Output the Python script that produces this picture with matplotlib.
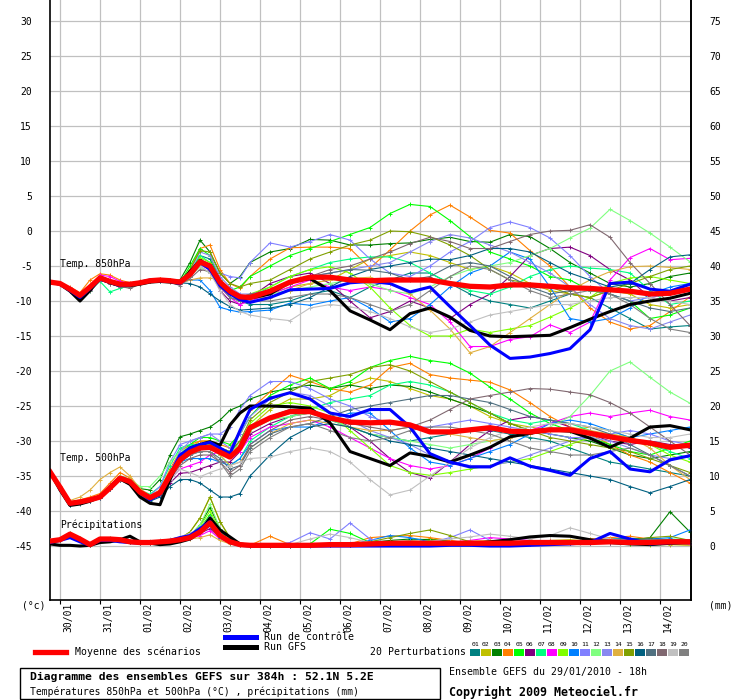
import matplotlib
matplotlib.use('Agg')
import matplotlib.pyplot as plt
from matplotlib.lines import Line2D
from matplotlib.patches import Rectangle

plt.rcParams['font.family'] = ['DejaVu Sans Mono', 'DejaVu Sans']
plt.rcParams['axes.unicode_minus'] = False

# forecast hours from 29/01/2010 18h (6h steps to 120h, then 12h)
hours = [0, 6, 12, 18, 24, 30, 36, 42, 48, 54, 60, 66, 72, 78, 84, 90, 96, 102, 108, 114, 120,
         132, 144, 156, 168, 180, 192, 204, 216, 228, 240, 252, 264, 276, 288, 300, 312, 324,
         336, 348, 360, 372, 384]

day_hours = [6, 30, 54, 78, 102, 126, 150, 174, 198, 222, 246, 270, 294, 318, 342, 366]
day_labels = ['30/01', '31/01', '01/02', '02/02', '03/02', '04/02', '05/02', '06/02',
              '07/02', '08/02', '09/02', '10/02', '11/02', '12/02', '13/02', '14/02']

pert_colors = ['#008080', '#c0c000', '#008000', '#ff8000', '#00ff00', '#800080', '#00ff80',
               '#ff00ff', '#80ff00', '#0080ff', '#8080ff', '#80ff80', '#8888f0', '#e0b040',
               '#80a000', '#006080', '#507080', '#806870', '#c0c0c0', '#808080']

# temperature 850 hPa (deg C)
t850_mean = [-7.3, -7.5, -8.3, -9.2, -8.0, -6.7, -7.2, -7.6, -7.6, -7.4, -7.1, -7.0, -7.1, -7.3, -6.2, -4.4, -5.0, -7.3, -8.6, -9.4, -9.5,
             -8.6, -7.3, -6.6, -6.6, -7.0, -7.1, -7.0, -7.0, -7.0, -7.5, -7.9, -8.0, -7.7, -7.7, -7.9, -8.1, -8.2, -8.4, -8.6, -9.0, -8.9, -8.3]
t850_ctrl = [-7.3, -7.6, -8.5, -9.5, -8.2, -6.9, -7.3, -7.8, -7.7, -7.3, -7.0, -7.1, -7.2, -7.5, -6.0, -4.5, -5.5, -7.8, -9.0, -9.8, -10.2,
             -9.5, -8.4, -8.3, -8.2, -7.4, -7.2, -7.5, -8.7, -8.0, -10.8, -13.5, -16.3, -18.2, -18.0, -17.5, -16.8, -14.1, -7.5, -7.3, -8.3, -8.6, -7.6]
t850_gfs = [-7.3, -7.6, -8.6, -10.0, -8.5, -6.8, -7.4, -7.8, -7.8, -7.6, -7.3, -7.2, -7.3, -7.5, -5.8, -4.2, -5.0, -7.4, -8.7, -9.8, -9.6,
            -9.0, -7.3, -6.8, -8.5, -11.4, -12.7, -14.1, -11.8, -11.0, -12.3, -14.2, -15.0, -15.1, -15.0, -14.9, -13.8, -12.6, -11.5, -10.5, -10.0, -9.6, -8.9]
t850_pert = [
    [-7.2, -7.6, -8.4, -9.5, -8.2, -6.9, -7.3, -7.7, -7.6, -7.5, -7.2, -7.1, -7.2, -7.5, -6.0, -3.5, -4.0, -7.0, -9.0, -10.0, -10.5,
     -10.5, -10.0, -9.0, -8.5, -9.5, -8.0, -7.0, -6.0, -6.0, -7.5, -9.0, -10.0, -10.5, -11.0, -10.0, -9.0, -9.5, -11.0, -12.5, -14.0, -13.7, -13.5],
    [-7.3, -7.4, -8.2, -9.0, -7.8, -6.5, -7.0, -7.4, -7.5, -7.3, -7.0, -6.9, -7.0, -7.2, -6.5, -4.8, -5.5, -7.5, -8.8, -9.5, -9.5,
     -9.0, -8.0, -7.5, -7.0, -5.5, -4.0, -3.5, -3.0, -3.5, -4.5, -5.5, -5.0, -6.0, -7.5, -8.5, -9.0, -9.5, -8.5, -9.0, -10.5, -11.0, -10.5],
    [-7.3, -7.5, -8.3, -9.3, -8.0, -6.4, -7.0, -7.5, -7.5, -7.3, -7.0, -7.0, -7.0, -7.0, -4.5, -1.3, -3.0, -6.0, -7.5, -6.5, -4.5,
     -3.0, -2.5, -1.2, -1.3, -2.0, -2.0, -1.8, -1.7, -1.2, -0.9, -1.5, -1.6, -0.5, -0.8, -2.5, -4.5, -6.0, -7.5, -8.0, -7.5, -6.5, -6.0],
    [-7.3, -7.5, -8.0, -8.8, -7.0, -6.1, -6.3, -7.0, -7.4, -7.2, -7.0, -6.9, -7.1, -7.3, -5.5, -2.5, -2.0, -5.5, -7.5, -8.2, -6.5,
     -4.0, -2.4, -2.3, -2.3, -2.5, -5.3, -2.7, 0.0, 2.3, 3.7, 2.0, 0.1, -0.3, -2.8, -5.0, -8.0, -11.0, -13.0, -14.0, -13.5, -11.5, -9.4],
    [-7.3, -7.6, -8.4, -9.4, -8.3, -6.8, -7.2, -7.6, -7.7, -7.5, -7.2, -7.0, -7.2, -7.4, -5.0, -2.5, -3.5, -7.0, -8.5, -8.0, -6.5,
     -5.0, -3.5, -2.5, -1.5, -0.5, 0.5, 2.5, 3.8, 3.5, 1.5, -0.8, -3.0, -4.0, -5.0, -6.5, -7.0, -8.5, -9.0, -10.0, -12.5, -12.0, -11.0],
    [-7.4, -7.6, -8.5, -9.6, -8.4, -7.0, -7.5, -8.0, -7.8, -7.4, -7.1, -7.0, -7.2, -7.6, -6.5, -4.0, -5.5, -8.5, -10.0, -10.5, -9.5,
     -7.5, -6.5, -6.0, -7.5, -10.0, -12.4, -11.5, -10.0, -11.0, -12.5, -10.5, -9.0, -6.5, -3.5, -2.5, -2.3, -3.5, -5.5, -7.0, -9.5, -10.0, -9.5],
    [-7.2, -7.5, -8.4, -9.5, -8.5, -7.2, -8.7, -8.2, -7.7, -7.5, -7.1, -7.0, -7.1, -7.3, -6.0, -3.5, -4.5, -7.5, -9.5, -10.0, -9.5,
     -8.0, -6.5, -5.5, -4.5, -4.0, -3.7, -3.7, -4.5, -6.0, -7.5, -8.5, -9.0, -8.0, -6.5, -5.5, -5.0, -5.3, -5.5, -6.0, -8.5, -10.5, -10.0],
    [-7.3, -7.5, -8.3, -9.2, -7.9, -6.3, -6.5, -7.2, -7.5, -7.3, -7.1, -7.0, -7.1, -7.3, -6.3, -5.0, -6.0, -8.0, -9.5, -10.5, -10.0,
     -9.0, -8.0, -7.0, -8.0, -8.5, -8.0, -8.4, -9.5, -10.5, -13.0, -16.5, -16.5, -15.5, -15.1, -13.4, -14.5, -13.0, -7.0, -3.8, -2.5, -4.1, -3.9],
    [-7.3, -7.5, -8.3, -9.3, -8.1, -6.8, -7.4, -7.9, -7.7, -7.4, -7.1, -7.0, -7.1, -7.3, -6.0, -3.8, -4.5, -7.5, -9.0, -9.5, -9.0,
     -8.0, -6.5, -5.5, -5.1, -6.0, -8.0, -11.0, -13.5, -15.0, -15.0, -14.0, -14.5, -14.0, -13.5, -12.3, -11.0, -9.5, -7.5, -6.7, -6.5, -7.0, -7.5],
    [-7.3, -7.6, -8.4, -9.4, -8.2, -6.9, -7.4, -7.8, -7.7, -7.5, -7.2, -7.1, -7.2, -7.4, -7.0, -7.0, -8.5, -10.9, -11.3, -11.6, -11.5,
     -11.3, -10.3, -10.6, -10.0, -9.5, -11.0, -13.0, -12.5, -10.5, -8.0, -6.0, -5.0, -3.0, -4.0, -8.0, -12.5, -13.0, -12.5, -11.0, -9.0, -8.0, -7.5],
    [-7.3, -7.5, -8.2, -9.1, -7.9, -6.6, -7.1, -7.5, -7.5, -7.4, -7.1, -7.0, -7.1, -7.2, -6.3, -5.0, -5.2, -6.0, -6.5, -6.7, -4.5,
     -1.7, -2.3, -1.5, -0.5, -1.3, -4.0, -6.0, -6.5, -5.0, -3.0, -1.5, 0.5, 1.3, 0.5, -1.0, -3.5, -6.5, -9.0, -10.0, -9.5, -9.0, -8.5],
    [-7.3, -7.5, -8.3, -9.2, -8.0, -6.7, -7.2, -7.6, -7.6, -7.4, -7.1, -7.0, -7.1, -7.3, -6.4, -5.2, -6.0, -8.0, -9.0, -9.5, -9.5,
     -9.0, -8.5, -8.0, -7.5, -7.0, -7.5, -8.5, -9.0, -8.0, -6.5, -5.5, -5.0, -4.5, -3.5, -2.5, -1.0, 0.4, 3.1, 1.5, -0.3, -2.3, -4.4],
    [-7.2, -7.4, -8.2, -9.1, -7.9, -6.6, -7.1, -7.5, -7.6, -7.4, -7.1, -7.0, -7.1, -7.3, -5.8, -3.0, -3.5, -6.5, -8.0, -9.0, -9.0,
     -8.5, -7.5, -6.5, -6.0, -5.5, -5.0, -4.5, -3.0, -1.5, -0.5, -1.0, -2.0, -3.0, -4.5, -6.0, -8.0, -10.5, -12.5, -13.5, -14.0, -13.0, -12.0],
    [-7.3, -7.5, -8.3, -9.2, -8.0, -6.7, -7.2, -7.6, -7.6, -7.4, -7.2, -7.1, -7.3, -7.5, -7.0, -6.7, -6.7, -7.0, -8.5, -9.5, -9.5,
     -9.5, -8.5, -7.5, -7.0, -6.8, -6.6, -7.5, -9.0, -11.3, -14.0, -17.4, -16.5, -14.5, -12.5, -10.5, -8.5, -7.0, -5.8, -5.1, -5.0, -5.2, -5.5],
    [-7.3, -7.5, -8.3, -9.2, -8.0, -6.6, -7.1, -7.6, -7.6, -7.4, -7.1, -7.0, -7.1, -7.3, -5.5, -2.8, -3.0, -6.0, -7.5, -8.0, -7.5,
     -7.0, -5.5, -4.0, -3.0, -2.0, -1.3, 0.0, -0.1, -0.8, -2.0, -3.5, -5.5, -7.0, -7.5, -8.0, -9.0, -9.5, -8.5, -7.5, -6.5, -5.5, -5.0],
    [-7.3, -7.6, -8.4, -9.4, -8.2, -6.9, -7.3, -7.7, -7.7, -7.5, -7.2, -7.1, -7.2, -7.4, -7.5, -8.0, -9.0, -10.0, -10.8, -11.3, -11.2,
     -11.0, -10.5, -9.5, -8.0, -6.5, -5.5, -5.0, -4.5, -4.0, -4.1, -3.5, -2.5, -2.5, -3.0, -4.5, -6.0, -7.0, -8.0, -7.5, -5.5, -3.7, -3.4],
    [-7.3, -7.5, -8.3, -9.2, -8.0, -6.7, -7.2, -7.6, -7.6, -7.4, -7.1, -7.0, -7.1, -7.3, -6.5, -4.5, -5.0, -7.5, -9.5, -10.0, -9.5,
     -9.0, -7.5, -6.5, -6.0, -5.5, -5.6, -6.0, -7.0, -6.5, -5.0, -4.5, -5.0, -6.5, -8.0, -9.0, -8.5, -8.0, -9.0, -10.0, -11.0, -11.5, -11.0],
    [-7.3, -7.5, -8.3, -9.4, -8.3, -7.0, -7.4, -7.9, -8.2, -7.6, -7.2, -7.0, -7.2, -7.6, -6.8, -5.5, -5.8, -7.5, -9.0, -9.5, -9.0,
     -8.5, -7.5, -6.5, -5.5, -5.0, -4.0, -3.0, -1.8, -0.9, -1.5, -2.5, -2.5, -1.5, -0.5, 0.0, 0.1, 0.9, -0.9, -4.5, -7.5, -10.5, -13.5],
    [-7.3, -7.5, -8.3, -9.2, -8.0, -6.7, -7.2, -7.6, -7.6, -7.4, -7.1, -7.0, -7.1, -7.3, -6.5, -5.0, -6.0, -8.5, -10.5, -11.5, -12.0,
     -12.5, -12.8, -11.0, -10.5, -10.8, -11.5, -12.5, -13.7, -14.5, -14.0, -13.0, -12.0, -11.5, -11.0, -10.5, -10.5, -10.0, -9.5, -9.5, -9.5, -10.0, -10.5],
    [-7.3, -7.6, -8.5, -9.6, -8.5, -7.0, -7.5, -8.0, -8.0, -7.5, -7.1, -7.0, -7.3, -7.8, -6.5, -4.5, -5.5, -8.0, -9.5, -10.0, -10.0,
     -10.0, -9.5, -9.0, -9.0, -9.5, -10.5, -11.5, -10.5, -8.5, -6.5, -5.0, -5.5, -7.0, -8.5, -9.5, -9.0, -8.5, -9.0, -10.5, -12.5, -14.0, -14.5],
]

# temperature 500 hPa (deg C)
t500_mean = [-34.4, -36.6, -38.9, -38.7, -38.4, -38.0, -36.7, -35.3, -35.8, -37.3, -38.1, -37.4, -34.9, -32.7, -31.6, -31.0, -30.9, -31.6, -32.3, -31.0, -28.1,
             -26.7, -25.8, -25.8, -26.7, -27.3, -27.4, -27.3, -27.7, -28.7, -28.7, -28.4, -28.1, -28.6, -28.7, -28.4, -28.4, -28.9, -29.4, -29.9, -30.3, -30.9, -30.6]
t500_ctrl = [-34.4, -36.8, -39.0, -38.8, -38.5, -38.0, -36.5, -35.2, -35.8, -37.4, -38.4, -37.6, -34.8, -32.0, -31.0, -30.5, -30.2, -31.0, -31.8, -28.5, -25.5,
             -23.9, -23.1, -24.0, -26.0, -26.5, -25.5, -25.5, -28.0, -31.8, -33.0, -33.7, -33.7, -32.4, -33.6, -34.2, -34.9, -32.5, -31.5, -34.0, -34.4, -32.7, -32.1]
t500_gfs = [-34.4, -37.0, -39.2, -39.0, -38.6, -38.0, -36.6, -35.4, -36.2, -38.0, -38.9, -39.1, -35.5, -32.3, -31.0, -30.5, -30.1, -30.6, -27.7, -26.0, -25.0,
            -25.0, -25.1, -25.3, -27.4, -31.5, -32.5, -33.5, -31.7, -32.2, -33.0, -32.0, -30.9, -29.4, -28.9, -28.4, -28.6, -29.6, -30.9, -29.6, -28.0, -27.8, -28.4]
t500_pert = [
    [-34.4, -36.8, -39.2, -39.0, -38.6, -38.2, -36.8, -35.5, -36.0, -37.5, -38.3, -37.5, -35.0, -33.0, -32.0, -31.0, -30.5, -31.0, -31.5, -30.0, -28.0,
     -26.5, -25.5, -26.0, -27.0, -28.0, -29.0, -29.5, -30.0, -29.5, -29.0, -28.5, -28.5, -29.0, -29.5, -30.0, -31.0, -32.0, -33.0, -33.5, -34.0, -34.5, -35.0],
    [-34.4, -36.5, -38.8, -38.6, -38.3, -37.9, -36.6, -35.2, -35.7, -37.2, -38.0, -37.3, -34.5, -32.0, -31.0, -30.0, -30.0, -31.0, -31.5, -30.5, -28.0,
     -25.5, -24.0, -24.0, -23.5, -22.0, -21.0, -21.5, -22.5, -23.5, -24.0, -25.0, -26.5, -27.5, -28.0, -28.5, -28.5, -28.0, -28.5, -29.5, -30.5, -31.0, -30.5],
    [-34.4, -36.6, -38.9, -38.7, -38.3, -37.8, -36.5, -35.0, -35.5, -36.8, -37.0, -35.5, -32.0, -29.4, -29.0, -28.5, -28.0, -27.0, -25.6, -25.0, -24.0,
     -23.0, -22.5, -22.0, -22.5, -22.0, -22.5, -22.0, -22.2, -23.0, -24.0, -25.0, -26.0, -27.5, -28.5, -29.0, -29.5, -30.0, -31.0, -32.0, -32.5, -32.0, -31.5],
    [-34.4, -36.5, -38.7, -38.4, -38.0, -37.5, -36.0, -34.5, -35.3, -37.0, -37.8, -37.0, -34.0, -31.5, -30.5, -30.0, -30.0, -30.5, -31.0, -28.5, -25.5,
     -23.0, -20.6, -21.5, -22.5, -23.0, -22.0, -19.5, -18.9, -20.5, -21.0, -21.3, -21.6, -22.7, -24.5, -26.5, -28.0, -29.0, -30.5, -32.0, -33.0, -34.5, -36.0],
    [-34.4, -36.6, -38.9, -38.7, -38.4, -38.0, -36.7, -35.3, -35.8, -37.3, -38.0, -37.2, -34.5, -32.0, -30.5, -29.5, -29.5, -30.0, -30.5, -29.0, -26.5,
     -23.5, -22.0, -21.0, -22.5, -21.5, -19.5, -18.5, -17.9, -18.5, -18.9, -20.3, -22.3, -24.0, -26.0, -27.5, -28.5, -29.5, -30.5, -31.5, -32.0, -31.0, -30.0],
    [-34.4, -36.7, -39.0, -38.8, -38.5, -38.1, -36.8, -35.5, -36.0, -37.5, -38.3, -37.8, -36.0, -34.6, -34.5, -34.0, -33.5, -33.0, -33.0, -31.5, -29.0,
     -27.5, -26.5, -26.0, -26.5, -28.0, -30.0, -32.5, -34.5, -35.3, -33.0, -30.5, -28.5, -27.0, -26.5, -27.0, -28.0, -29.0, -30.0, -30.5, -30.0, -30.5, -31.0],
    [-34.4, -36.6, -38.9, -38.7, -38.4, -38.0, -36.6, -35.2, -35.6, -37.0, -37.6, -36.5, -33.5, -31.0, -30.5, -30.5, -31.0, -32.0, -33.5, -32.5, -30.0,
     -28.0, -26.5, -25.5, -24.5, -24.0, -23.5, -22.0, -21.5, -22.0, -23.0, -24.5, -26.0, -27.0, -27.5, -27.0, -27.5, -28.5, -29.5, -30.0, -30.5, -31.5, -32.5],
    [-34.4, -36.6, -38.9, -38.7, -38.4, -38.0, -36.7, -35.3, -35.8, -37.3, -38.1, -37.5, -35.5, -34.0, -33.5, -33.0, -32.0, -31.5, -32.0, -31.5, -29.5,
     -28.0, -27.5, -27.0, -28.0, -29.5, -31.0, -32.5, -33.5, -34.0, -33.5, -32.5, -31.0, -29.5, -28.5, -27.5, -26.5, -26.0, -26.5, -26.0, -25.6, -26.5, -27.0],
    [-34.4, -36.6, -38.9, -38.6, -38.3, -37.9, -36.6, -35.2, -35.7, -37.2, -38.0, -37.3, -34.5, -32.0, -31.0, -30.5, -30.5, -31.0, -32.0, -30.5, -27.5,
     -25.0, -24.5, -25.0, -26.0, -28.5, -31.0, -33.5, -34.5, -34.9, -34.5, -34.0, -33.5, -33.0, -32.5, -31.5, -30.5, -29.5, -29.0, -29.5, -30.5, -32.0, -33.0],
    [-34.4, -36.6, -38.9, -38.7, -38.4, -38.0, -36.7, -35.3, -35.8, -37.3, -38.1, -37.4, -35.0, -33.0, -32.5, -32.5, -32.5, -33.0, -33.5, -32.5, -30.5,
     -28.5, -28.0, -28.0, -27.0, -26.0, -26.0, -28.5, -31.0, -33.0, -33.5, -32.5, -31.5, -30.5, -29.0, -27.5, -27.0, -27.5, -28.5, -29.5, -29.0, -28.5, -28.0],
    [-34.4, -36.6, -38.9, -38.7, -38.4, -38.0, -36.7, -35.3, -35.8, -37.3, -37.8, -36.5, -33.0, -30.5, -30.0, -29.5, -29.0, -29.0, -28.0, -25.5, -23.5,
     -21.5, -21.5, -22.5, -24.0, -25.0, -26.5, -27.5, -28.0, -28.0, -27.5, -27.0, -27.5, -28.0, -28.5, -29.0, -29.5, -29.5, -29.0, -28.5, -29.0, -30.0, -30.5],
    [-34.4, -36.6, -38.9, -38.7, -38.4, -38.0, -36.5, -35.0, -35.5, -36.5, -36.5, -35.0, -33.0, -31.5, -30.8, -30.5, -30.5, -31.0, -31.5, -30.5, -28.5,
     -27.0, -26.5, -26.0, -27.0, -28.0, -29.0, -29.5, -30.0, -30.5, -31.0, -30.5, -30.0, -29.5, -29.0, -28.0, -26.5, -23.5, -20.0, -18.7, -20.9, -23.0, -24.6],
    [-34.4, -36.6, -38.9, -38.7, -38.4, -38.0, -36.7, -35.3, -35.8, -37.3, -38.1, -37.4, -34.5, -31.5, -30.0, -29.5, -29.0, -30.0, -31.0, -29.0, -26.5,
     -24.0, -23.0, -23.5, -25.0, -27.0, -28.5, -29.5, -30.5, -32.0, -33.0, -33.5, -33.5, -33.0, -32.0, -31.0, -30.0, -29.5, -30.0, -31.0, -32.0, -32.5, -32.0],
    [-34.4, -36.4, -38.5, -38.0, -37.0, -35.5, -34.5, -33.7, -35.0, -36.8, -37.8, -37.0, -34.5, -32.5, -31.5, -31.0, -31.0, -32.0, -33.5, -33.0, -31.0,
     -29.0, -27.5, -27.0, -27.5, -28.0, -28.5, -28.5, -28.0, -28.5, -29.0, -29.5, -30.0, -29.5, -29.0, -28.5, -28.0, -28.5, -29.0, -29.5, -31.0, -33.5, -35.5],
    [-34.4, -36.6, -38.9, -38.7, -38.4, -38.0, -36.7, -35.3, -35.8, -37.3, -38.1, -37.4, -34.8, -32.5, -31.5, -31.0, -30.5, -31.0, -31.5, -30.0, -27.0,
     -24.5, -23.0, -21.5, -21.0, -20.5, -19.5, -19.1, -20.0, -21.5, -23.0, -24.5, -26.0, -27.5, -28.5, -29.5, -30.0, -30.5, -31.0, -31.5, -32.5, -33.5, -34.5],
    [-34.4, -36.7, -39.1, -38.9, -38.6, -38.2, -36.9, -35.6, -36.2, -37.8, -38.6, -38.0, -36.5, -35.5, -35.5, -36.0, -37.0, -38.0, -38.0, -37.5, -35.0,
     -32.0, -29.5, -28.0, -27.5, -28.0, -29.0, -30.0, -30.5, -31.0, -31.5, -32.0, -32.5, -33.0, -33.5, -34.0, -34.5, -35.0, -35.5, -36.5, -37.4, -36.5, -35.5],
    [-34.4, -36.6, -38.9, -38.7, -38.4, -38.0, -36.7, -35.3, -35.8, -37.3, -38.1, -37.4, -34.9, -32.8, -32.0, -31.5, -31.5, -32.5, -34.0, -33.5, -31.0,
     -29.0, -28.0, -27.5, -26.5, -25.5, -25.0, -24.5, -24.0, -23.5, -23.5, -24.0, -24.5, -25.5, -26.5, -27.0, -27.5, -28.0, -29.0, -30.5, -32.0, -33.5, -35.0],
    [-34.4, -36.6, -38.9, -38.7, -38.4, -38.0, -36.7, -35.3, -35.8, -37.3, -38.1, -37.5, -35.5, -33.5, -32.5, -32.0, -32.0, -33.0, -34.5, -33.5, -30.5,
     -28.5, -27.0, -26.5, -27.0, -27.5, -28.0, -28.5, -28.0, -27.0, -25.5, -24.0, -23.5, -23.0, -22.5, -22.6, -23.0, -23.4, -24.5, -26.0, -28.0, -30.0, -32.0],
    [-34.4, -36.6, -38.9, -38.7, -38.4, -38.0, -36.7, -35.3, -35.8, -37.3, -38.1, -37.6, -35.5, -34.0, -34.5, -35.1, -34.5, -34.0, -33.5, -33.0, -32.5,
     -32.3, -31.5, -31.0, -31.5, -33.0, -35.5, -37.7, -37.0, -35.0, -33.0, -31.0, -29.5, -28.5, -28.0, -27.5, -27.5, -28.0, -28.5, -29.0, -29.5, -29.5, -29.0],
    [-34.4, -36.7, -39.0, -38.8, -38.5, -38.1, -36.8, -35.5, -36.0, -37.5, -38.3, -37.6, -35.0, -33.0, -32.0, -31.5, -31.5, -33.0, -35.0, -34.0, -31.5,
     -29.5, -28.0, -27.5, -28.5, -29.5, -30.0, -29.5, -28.5, -28.0, -28.0, -28.5, -29.0, -30.0, -31.0, -31.5, -32.0, -32.0, -31.5, -31.0, -32.0, -33.5, -35.0],
]

# precipitation (mm, right axis)
rr_mean = [0.7, 0.9, 1.7, 1.0, 0.2, 1.0, 1.0, 0.9, 0.6, 0.5, 0.5, 0.6, 0.7, 0.9, 1.2, 2.0, 3.3, 1.5, 0.6, 0.2, 0.1,
           0.1, 0.1, 0.1, 0.2, 0.2, 0.3, 0.4, 0.4, 0.4, 0.4, 0.4, 0.4, 0.4, 0.5, 0.5, 0.5, 0.5, 0.6, 0.5, 0.5, 0.6, 0.6]
rr_ctrl = [0.5, 0.8, 1.2, 0.6, 0.1, 0.8, 0.8, 0.6, 0.5, 0.4, 0.6, 0.6, 0.8, 1.2, 1.5, 2.5, 3.5, 1.5, 0.5, 0.1, 0.0,
           0.0, 0.0, 0.0, 0.0, 0.0, 0.0, 0.0, 0.0, 0.0, 0.1, 0.1, 0.0, 0.0, 0.1, 0.2, 0.3, 0.5, 1.8, 1.0, 0.3, 0.5, 0.6]
rr_gfs = [0.3, 0.1, 0.1, 0.0, 0.1, 0.5, 0.6, 0.9, 1.4, 0.6, 0.4, 0.2, 0.3, 0.6, 1.0, 2.0, 4.0, 2.3, 1.3, 0.3, 0.1,
          0.0, 0.0, 0.1, 0.1, 0.1, 0.2, 0.2, 0.3, 0.4, 0.3, 0.3, 0.6, 0.9, 1.3, 1.5, 1.4, 0.9, 0.5, 0.3, 0.2, 0.4, 0.5]
rr_pert = [
    [0.6, 0.8, 1.5, 0.9, 0.2, 0.9, 1.0, 0.8, 0.6, 0.5, 0.6, 0.7, 0.8, 1.0, 1.5, 2.5, 4.0, 2.0, 0.8, 0.2, 0.1,
     0.1, 0.1, 0.1, 0.2, 0.3, 0.5, 0.6, 0.6, 0.5, 0.5, 0.4, 0.4, 0.5, 0.6, 0.6, 0.7, 0.8, 1.0, 1.1, 1.0, 0.8, 0.6],
    [0.7, 0.9, 1.8, 1.0, 0.3, 1.1, 1.0, 0.9, 0.6, 0.5, 0.5, 0.6, 0.8, 1.1, 2.0, 4.0, 7.0, 3.5, 1.0, 0.2, 0.1,
     0.0, 0.1, 0.1, 0.2, 0.2, 0.3, 0.5, 0.8, 1.0, 0.7, 0.5, 0.4, 0.4, 0.5, 0.8, 0.9, 0.7, 0.5, 0.3, 0.2, 0.2, 0.1],
    [0.7, 0.9, 1.6, 1.0, 0.2, 1.0, 1.0, 0.9, 0.6, 0.5, 0.5, 0.6, 0.7, 0.9, 1.5, 3.0, 5.5, 2.5, 0.8, 0.1, 0.0,
     0.0, 0.0, 0.1, 0.1, 0.2, 0.5, 0.8, 1.0, 0.9, 0.7, 0.5, 0.4, 0.3, 0.3, 0.4, 0.5, 0.5, 0.6, 0.8, 1.2, 4.9, 2.0],
    [0.6, 0.8, 1.4, 0.8, 0.2, 0.9, 0.9, 0.8, 0.6, 0.5, 0.5, 0.6, 0.7, 0.9, 1.2, 2.0, 3.0, 1.2, 0.4, 0.1, 0.1,
     1.4, 0.2, 0.1, 0.1, 0.3, 1.2, 1.4, 1.5, 1.2, 0.8, 0.4, 0.3, 0.3, 0.4, 0.5, 0.6, 1.0, 1.2, 1.4, 1.0, 0.6, 0.4],
    [0.8, 1.0, 1.8, 1.1, 0.3, 1.0, 1.1, 1.0, 0.7, 0.5, 0.5, 0.6, 0.7, 1.0, 1.4, 2.5, 4.5, 2.0, 0.7, 0.2, 0.1,
     0.1, 0.1, 0.3, 2.4, 1.8, 0.5, 0.3, 0.5, 0.8, 0.6, 0.4, 0.3, 0.3, 0.3, 0.4, 0.5, 0.5, 0.4, 0.3, 0.3, 0.3, 0.2],
    [0.7, 0.9, 1.7, 1.0, 0.2, 1.0, 1.0, 0.9, 0.6, 0.5, 0.5, 0.6, 0.7, 0.9, 1.1, 1.8, 2.5, 1.2, 0.5, 0.1, 0.0,
     0.0, 0.0, 0.1, 0.1, 0.2, 0.3, 0.4, 0.5, 0.5, 0.4, 0.4, 0.4, 0.5, 0.6, 0.5, 0.4, 0.4, 0.5, 0.6, 0.5, 0.4, 0.3],
    [0.7, 0.9, 1.6, 0.9, 0.2, 1.0, 1.0, 0.9, 0.6, 0.5, 0.5, 0.6, 0.7, 1.0, 1.3, 2.2, 3.5, 1.5, 0.6, 0.1, 0.0,
     0.0, 0.1, 0.1, 0.2, 0.3, 0.4, 0.5, 0.6, 0.5, 0.4, 0.3, 0.3, 0.4, 0.5, 0.6, 0.6, 0.5, 0.5, 0.6, 0.8, 1.0, 0.9],
    [0.7, 0.9, 1.7, 1.0, 0.2, 1.0, 1.0, 0.9, 0.6, 0.5, 0.5, 0.6, 0.7, 0.9, 1.1, 1.5, 2.2, 1.0, 0.4, 0.1, 0.0,
     0.0, 0.0, 0.1, 0.1, 0.2, 0.3, 0.4, 0.4, 0.3, 0.5, 0.8, 1.2, 1.0, 0.8, 0.7, 0.6, 0.5, 0.4, 0.4, 0.4, 0.3, 0.3],
    [0.7, 0.9, 1.6, 1.0, 0.2, 1.0, 1.0, 0.9, 0.6, 0.5, 0.5, 0.6, 0.7, 0.9, 1.3, 2.8, 5.0, 2.2, 0.8, 0.2, 0.0,
     0.0, 0.1, 0.1, 0.2, 0.2, 0.3, 0.4, 0.5, 0.5, 0.4, 0.4, 0.4, 0.4, 0.5, 0.5, 0.6, 0.7, 0.6, 0.5, 0.4, 0.5, 0.6],
    [0.6, 0.9, 1.5, 0.9, 0.2, 0.9, 1.0, 0.8, 0.6, 0.5, 0.5, 0.6, 0.7, 0.9, 1.2, 2.0, 2.8, 1.2, 0.4, 0.1, 0.0,
     0.0, 0.0, 0.0, 0.1, 0.2, 0.8, 1.5, 1.2, 0.6, 0.4, 0.3, 0.3, 0.4, 0.5, 0.4, 0.4, 0.5, 0.6, 0.8, 1.0, 1.2, 2.3],
    [0.7, 0.9, 1.7, 1.0, 0.2, 1.0, 1.0, 0.9, 0.6, 0.5, 0.5, 0.6, 0.7, 0.9, 1.2, 2.5, 4.2, 1.8, 0.6, 0.1, 0.0,
     0.1, 0.5, 1.9, 1.0, 3.3, 1.0, 0.4, 0.3, 0.5, 1.2, 2.3, 0.8, 0.4, 0.3, 0.4, 0.5, 0.6, 0.6, 0.7, 0.8, 0.9, 0.9],
    [0.7, 0.9, 1.6, 1.0, 0.2, 1.0, 1.0, 0.9, 0.6, 0.5, 0.5, 0.6, 0.7, 0.9, 1.4, 3.0, 6.0, 2.5, 0.8, 0.1, 0.0,
     0.0, 0.0, 0.1, 0.1, 0.2, 0.3, 0.3, 0.4, 0.4, 0.3, 0.3, 0.3, 0.3, 0.4, 0.5, 0.6, 0.7, 0.8, 0.7, 0.6, 0.5, 0.5],
    [0.7, 0.9, 1.6, 1.0, 0.2, 1.0, 1.0, 0.9, 0.6, 0.5, 0.5, 0.6, 0.7, 0.9, 1.2, 2.2, 3.8, 1.6, 0.6, 0.1, 0.0,
     0.0, 0.1, 0.2, 0.3, 0.4, 0.5, 0.6, 0.7, 0.6, 0.5, 0.4, 0.4, 0.5, 0.6, 0.6, 0.5, 0.5, 0.6, 0.8, 0.9, 0.9, 0.8],
    [0.6, 0.8, 1.4, 0.9, 0.2, 0.9, 1.0, 0.9, 0.6, 0.5, 0.5, 0.6, 0.7, 0.9, 1.0, 1.2, 1.6, 0.8, 0.3, 0.1, 0.0,
     0.0, 0.0, 0.1, 0.1, 0.2, 0.3, 0.3, 0.4, 0.5, 0.6, 0.7, 0.8, 0.7, 0.6, 0.5, 0.6, 0.8, 0.7, 0.6, 0.5, 0.4, 0.1],
    [0.7, 0.9, 1.7, 1.0, 0.2, 1.0, 1.0, 0.9, 0.6, 0.5, 0.5, 0.6, 0.8, 1.1, 2.0, 4.0, 7.0, 3.5, 1.2, 0.3, 0.1,
     0.0, 0.0, 0.1, 0.2, 0.3, 0.6, 1.2, 1.8, 2.3, 1.5, 0.6, 0.4, 0.4, 0.5, 0.5, 0.5, 0.6, 0.7, 0.8, 1.2, 1.4, 0.8],
    [0.7, 0.9, 1.7, 1.0, 0.2, 1.0, 1.0, 0.9, 0.6, 0.5, 0.5, 0.6, 0.7, 0.9, 1.1, 2.0, 3.5, 2.0, 1.2, 0.3, 0.0,
     0.0, 0.0, 0.1, 0.1, 0.2, 0.3, 0.4, 0.4, 0.4, 0.4, 0.4, 0.4, 0.5, 0.6, 0.6, 0.6, 0.7, 0.8, 0.9, 1.0, 0.9, 0.8],
    [0.7, 0.9, 1.7, 1.0, 0.2, 1.0, 1.0, 0.9, 0.6, 0.5, 0.5, 0.6, 0.7, 0.9, 1.2, 2.0, 3.2, 1.4, 0.5, 0.1, 0.0,
     0.0, 0.0, 0.1, 0.1, 0.2, 0.3, 0.4, 0.5, 0.5, 0.5, 0.4, 0.4, 0.4, 0.5, 0.5, 0.6, 0.6, 0.7, 0.6, 0.5, 0.4, 0.4],
    [0.7, 0.9, 1.7, 1.0, 0.2, 1.0, 1.0, 0.9, 0.6, 0.5, 0.5, 0.6, 0.7, 0.9, 1.2, 2.3, 3.8, 1.6, 0.6, 0.2, 0.0,
     0.0, 0.0, 0.1, 0.2, 0.3, 0.4, 0.5, 0.5, 0.4, 0.3, 0.3, 0.3, 0.4, 0.5, 0.5, 0.5, 0.5, 0.5, 0.6, 0.7, 0.8, 0.7],
    [0.8, 1.0, 1.8, 1.2, 0.4, 1.2, 1.2, 1.0, 0.8, 0.7, 0.7, 0.8, 1.0, 1.3, 1.8, 2.5, 3.0, 1.5, 0.6, 0.2, 0.0,
     0.0, 0.2, 1.0, 1.7, 1.2, 0.5, 0.4, 0.5, 0.7, 1.0, 1.3, 1.7, 1.4, 1.0, 1.5, 2.6, 1.8, 1.0, 0.6, 0.5, 0.5, 0.6],
    [0.7, 0.9, 1.7, 1.0, 0.2, 1.0, 1.0, 0.9, 0.6, 0.5, 0.5, 0.6, 0.7, 0.9, 1.3, 2.4, 4.0, 1.8, 0.7, 0.2, 0.0,
     0.0, 0.0, 0.1, 0.2, 0.3, 0.4, 0.5, 0.6, 0.6, 0.5, 0.5, 0.5, 0.5, 0.5, 0.6, 0.7, 0.7, 0.7, 0.8, 0.9, 0.9, 0.8],
]

W, H = 740, 700


def fx(px):
    return px / W


def fy(py):
    return 1 - py / H


fig = plt.figure(figsize=(7.4, 7.0), dpi=100)
ax = fig.add_axes([fx(50), fy(600), 641 / W, 600 / H])
ax.set_xlim(0, 384.6)
ax.set_ylim(-52.71, 33.0)

ax.set_yticks(list(range(-45, 31, 5)))
ax.set_xticks(day_hours)
ax.set_xticklabels([])
ax.grid(True, color='#c0c0c0', lw=0.9)
ax.set_axisbelow(True)
ax.tick_params(axis='y', length=0, pad=13, labelsize=7)
ax.tick_params(axis='x', length=3, width=0.8, direction='out')
ax.spines['top'].set_visible(False)
for s in ['left', 'right', 'bottom']:
    ax.spines[s].set_linewidth(1.2)

ax2 = ax.twinx()
ax2.set_ylim(-52.71 + 45, 33.0 + 45)
ax2.set_yticks(list(range(0, 76, 5)))
ax2.tick_params(axis='y', length=0, pad=13, labelsize=7)
for s in ['top', 'left', 'bottom']:
    ax2.spines[s].set_visible(False)
ax2.spines['right'].set_linewidth(1.2)

for i in range(20):
    c = pert_colors[i]
    ax.plot(hours, t850_pert[i], color=c, lw=0.8, marker='+', ms=3, mew=0.7)
    ax.plot(hours, t500_pert[i], color=c, lw=0.8, marker='+', ms=3, mew=0.7)
    ax2.plot(hours, rr_pert[i], color=c, lw=0.8, marker='+', ms=3, mew=0.7)

for series in (t850_gfs, t500_gfs):
    ax.plot(hours, series, color='black', lw=2.2)
ax2.plot(hours, rr_gfs, color='black', lw=2.2)
for series in (t850_ctrl, t500_ctrl):
    ax.plot(hours, series, color='#0000ff', lw=2.2)
ax2.plot(hours, rr_ctrl, color='#0000ff', lw=2.2)
for series in (t850_mean, t500_mean):
    ax.plot(hours, series, color='#ff0000', lw=3.8)
ax2.plot(hours, rr_mean, color='#ff0000', lw=3.8)

ax.text(6, -4.7, 'Temp. 850hPa', fontsize=7, va='center')
ax.text(6, -32.4, 'Temp. 500hPa', fontsize=7, va='center')
ax.text(6, -41.9, 'Précipitations', fontsize=7, va='center')

for h, lab in zip(day_hours, day_labels):
    ax.text(h + 4.8, -0.004, lab, rotation=90, ha='center', va='top', fontsize=7,
            transform=ax.get_xaxis_transform())

fig.text(fx(22), fy(606), '(°c)', fontsize=7, va='center')
fig.text(fx(709), fy(606), '(mm)', fontsize=7, va='center')

# legend
fig.add_artist(Line2D([fx(35), fx(66)], [fy(652), fy(652)], color='#ff0000', lw=3.8))
fig.text(fx(75), fy(652), 'Moyenne des scénarios', fontsize=7.1, va='center')
fig.add_artist(Line2D([fx(225), fx(256)], [fy(637), fy(637)], color='#0000ff', lw=3.6))
fig.text(fx(264), fy(637), 'Run de contrôle', fontsize=7.1, va='center')
fig.add_artist(Line2D([fx(225), fx(256)], [fy(647), fy(647)], color='black', lw=3.6))
fig.text(fx(264), fy(647), 'Run GFS', fontsize=7.1, va='center')
fig.text(fx(370), fy(652), '20 Perturbations', fontsize=7.1, va='center')
for i, c in enumerate(pert_colors):
    fig.add_artist(Rectangle((fx(470 + 11 * i), fy(656)), 10 / W, 7 / H,
                             transform=fig.transFigure, color=c, lw=0))
    fig.text(fx(475 + 11 * i), fy(644), '%02d' % (i + 1), fontsize=4.6, ha='center', va='center')

fig.add_artist(Rectangle((fx(20), fy(699)), 420 / W, 31 / H, transform=fig.transFigure,
                         fill=False, ec='black', lw=1))
fig.text(fx(30), fy(677), 'Diagramme des ensembles GEFS sur 384h : 52.1N 5.2E',
         fontsize=8.2, weight='bold', va='center')
fig.text(fx(30), fy(692), 'Températures 850hPa et 500hPa (°C) , précipitations (mm)',
         fontsize=7, va='center')
fig.text(fx(449), fy(672), 'Ensemble GEFS du 29/01/2010 - 18h', fontsize=7.1, va='center')
fig.text(fx(449), fy(692), 'Copyright 2009 Meteociel.fr', fontsize=8.4, weight='bold', va='center')

fig.savefig('out.png', dpi=100)
